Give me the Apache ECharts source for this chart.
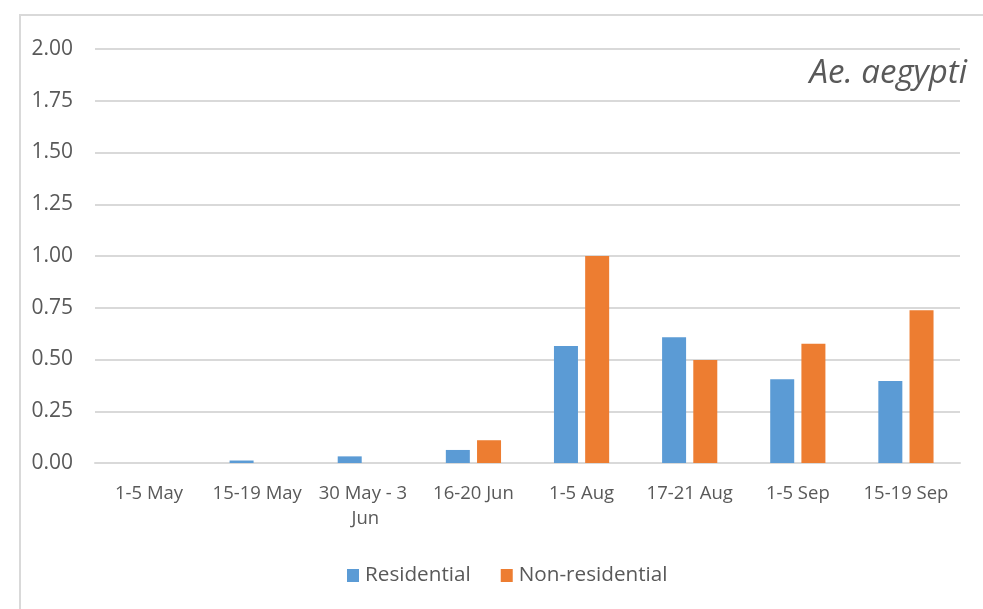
<!DOCTYPE html>
<html><head><meta charset="utf-8">
<script src="https://cdn.jsdelivr.net/npm/echarts@6/dist/echarts.min.js"></script>
<style>
html,body{margin:0;padding:0;background:#fff;}
#frame{position:absolute;left:19px;top:14px;width:980px;height:620px;border:2px solid #d9d9d9;box-sizing:border-box;}
#c{position:absolute;left:0;top:0;width:983px;height:609px;}
</style></head>
<body><div id="frame"></div><div id="c"></div>
<script>
const categories = ['1-5 May','15-19 May','30 May - 3 Jun','16-20 Jun','1-5 Aug','17-21 Aug','1-5 Sep','15-19 Sep'];
const residential = [0, 0.012, 0.032, 0.063, 0.565, 0.607, 0.404, 0.396];
const nonResidential = [0, 0, 0, 0.11, 1.0, 0.497, 0.576, 0.738];
const yTicks = { min: 0, max: 2, interval: 0.25 };
const titleText = 'Ae. aegypti';

const font = '"Open Sans", sans-serif';
const chart = echarts.init(document.getElementById('c'), null, {renderer:'canvas'});
chart.setOption({
  animation: false,
  title: { text: titleText, right: 11, top: 52, textStyle: { fontFamily: font, fontStyle: 'italic', fontWeight: 'normal', fontSize: 33, color: '#595959' } },
  legend: { bottom: 18, left: 342, itemWidth: 12, itemHeight: 13, itemGap: 30, icon: 'rect',
    textStyle: { fontFamily: font, fontSize: 20.7, color: '#595959', padding: [0,0,0,1] } },
  grid: { left: 95, right: 23, top: 49, bottom: 146 },
  xAxis: { type: 'category', data: categories,
    axisLine: { lineStyle: { color: '#d9d9d9', width: 2 } }, axisTick: { show: false },
    axisLabel: { fontFamily: font, fontSize: 18.5, color: '#595959', margin: 18, width: 100, overflow: 'break', lineHeight: 25, interval: 0 } },
  yAxis: { type: 'value', min: yTicks.min, max: yTicks.max, interval: yTicks.interval,
    axisLabel: { fontFamily: font, fontSize: 21, color: '#595959', margin: 22, formatter: v => v.toFixed(2) },
    splitLine: { lineStyle: { color: '#d9d9d9', width: 2 } }, axisLine: { show: false }, axisTick: { show: false } },
  series: [
    { name: 'Residential', type: 'bar', data: residential, barWidth: 24, barGap: '30%', itemStyle: { color: '#5b9bd5' } },
    { name: 'Non-residential', type: 'bar', data: nonResidential, barWidth: 24, itemStyle: { color: '#ed7d31' } }
  ]
});
</script></body></html>
